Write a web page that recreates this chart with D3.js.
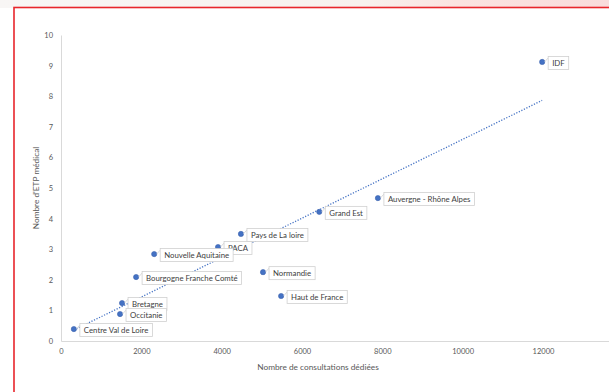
<!DOCTYPE html>
<html>
<head>
<meta charset="utf-8">
<script src="https://cdn.jsdelivr.net/npm/d3@7"></script>
<style>
  body { margin: 0; background: #fff; }
  svg { display: block; font-family: Lato, "Open Sans", sans-serif; }
</style>
</head>
<body>
<svg id="chart" width="609" height="392"></svg>
<script>
// donnees
const regions = ['IDF', 'Auvergne - Rhône Alpes', 'Grand Est', 'Pays de La loire', 'PACA',
  'Nouvelle Aquitaine', 'Bourgogne Franche Comté', 'Normandie', 'Haut de France',
  'Bretagne', 'Occitanie', 'Centre Val de Loire']
const consultations = [11980, 7890, 6430, 4480, 3910, 2320, 1870, 5030, 5480, 1520, 1470, 320]
const etp = [9.12, 4.67, 4.22, 3.5, 3.07, 2.84, 2.09, 2.25, 1.47, 1.24, 0.88, 0.39]
const xTicks = [0, 2000, 4000, 6000, 8000, 10000, 12000]
const yTicks = [0, 1, 2, 3, 4, 5, 6, 7, 8, 9, 10]

const svg = d3.select('#chart')

// fond haut (bandeau rose pale)
let defs = svg.append('defs')
let grad = defs.append('linearGradient').attr('id', 'topGrad')
grad.append('stop').attr('offset', '0%').attr('stop-color', '#f8f6f5')
grad.append('stop').attr('offset', '60%').attr('stop-color', '#f8f1ee')
grad.append('stop').attr('offset', '75%').attr('stop-color', '#fbe3e0')
grad.append('stop').attr('offset', '100%').attr('stop-color', '#f9dcdc')
svg.append('rect').attr('x', 0).attr('y', 0).attr('width', 609).attr('height', 8)
  .attr('fill', 'url(#topGrad)')

// cadre rouge
svg.append('rect')
  .attr('x', 14).attr('y', 7.5).attr('width', 620).attr('height', 400)
  .attr('fill', '#fff').attr('stroke', '#e8262c').attr('stroke-width', 1.6)

const x = d3.scaleLinear().domain([0, 14000]).range([61, 623.3])
const y = d3.scaleLinear().domain([0, 10]).range([341, 35])

// axes
let yAxis = svg.append('g').attr('transform', 'translate(61,0)')
  .call(d3.axisLeft(y).tickValues(yTicks).tickSize(0).tickPadding(8))
let xAxis = svg.append('g').attr('transform', 'translate(0,341)')
  .call(d3.axisBottom(x).tickValues(xTicks).tickSize(0).tickPadding(8).tickFormat(d3.format('d')))
svg.selectAll('.domain').attr('stroke', '#d9d9d9').attr('stroke-width', 1)
svg.selectAll('.tick text').attr('fill', '#595959').style('font-size', '7.5px')
  .style('font-family', 'Lato, sans-serif')

// titres des axes
svg.append('text')
  .attr('transform', 'translate(39,188) rotate(-90)')
  .attr('text-anchor', 'middle')
  .attr('fill', '#595959').style('font-size', '8.3px')
  .text("Nombre d'ETP médical")
svg.append('text')
  .attr('x', 318).attr('y', 370)
  .attr('text-anchor', 'middle')
  .attr('fill', '#595959').style('font-size', '8.3px')
  .text('Nombre de consultations dédiées')

// courbe de tendance lineaire (moindres carres)
let mx = d3.mean(consultations), my = d3.mean(etp)
let sxy = d3.sum(consultations, (d, i) => (d - mx) * (etp[i] - my))
let sxx = d3.sum(consultations, d => (d - mx) * (d - mx))
let slope = sxy / sxx, inter = my - slope * mx
let ext = d3.extent(consultations)
svg.append('path')
  .datum(ext.map(v => [v, inter + slope * v]))
  .attr('d', d3.line().x(d => x(d[0])).y(d => y(d[1])))
  .attr('fill', 'none').attr('stroke', '#4472c4').attr('stroke-width', 1.3)
  .attr('stroke-dasharray', '1.2,1.6')

// points
let pts = regions.map((r, i) => ({ name: r, cx: x(consultations[i]), cy: y(etp[i]) }))
svg.selectAll('.dot').data(pts).enter().append('circle')
  .attr('cx', d => d.cx).attr('cy', d => d.cy).attr('r', 2.6)
  .attr('fill', '#4472c4').attr('stroke', '#3a62ad').attr('stroke-width', 0.6)

// etiquettes
let lab = svg.selectAll('.lab').data(pts).enter().append('g')
  .attr('transform', d => 'translate(' + (d.cx + 6) + ',' + (d.cy + 1) + ')')
lab.append('line').attr('x1', -3.5).attr('y1', -1).attr('x2', 0).attr('y2', -5)
  .attr('stroke', '#d0d0d0').attr('stroke-width', 0.8)
lab.append('rect').attr('y', -6.5).attr('height', 13)
  .attr('fill', '#fff').attr('stroke', '#d0d0d0').attr('stroke-width', 0.8)
lab.append('text').attr('x', 4).attr('y', 2.8)
  .attr('fill', '#404040').style('font-size', '7.8px')
  .text(d => d.name)
lab.each(function () {
  let g = d3.select(this)
  let w = g.select('text').node().getComputedTextLength()
  g.select('rect').attr('width', w + 8)
})
</script>
</body>
</html>
